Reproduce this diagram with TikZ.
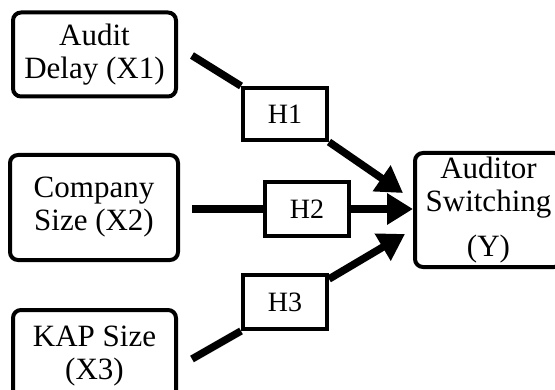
\documentclass[tikz,border=0pt]{standalone}
\usepackage{fontspec}
\setmainfont{Liberation Serif}
\usepackage{tikz}
\usetikzlibrary{positioning,calc,arrows.meta}

\begin{document}
\begin{tikzpicture}[x=1pt,y=1pt,
    varbox/.style={draw, line width=4pt, rounded corners=8pt, align=center, inner sep=0pt, font=\fontsize{31}{33}\selectfont},
    hypbox/.style={draw, line width=4pt, fill=white, minimum width=84pt, minimum height=54pt, inner sep=0pt, font=\fontsize{28}{30}\selectfont},
    link/.style={line width=7.5pt},
    effect/.style={line width=7.5pt, -{Triangle[length=26pt,width=30pt]}}]
    \clip (0,0) rectangle (555,389);
    % variables
    \node[varbox, minimum width=163pt, minimum height=84pt] (x1) at (94.5,334.5) {Audit\\Delay (X1)};
    \node[varbox, minimum width=168pt, minimum height=105pt] (x2) at (94,181.5) {Company\\Size (X2)};
    \node[varbox, minimum width=163pt, minimum height=92pt] (x3) at (94.5,33) {KAP Size\\(X3)};
    \node[varbox, minimum width=147pt, minimum height=114pt] (y) at (488.5,179) {Auditor\\Switching\\[12pt](Y)};
    % hypotheses
    \node[hypbox, minimum height=52pt] (h1) at (285,275) {H1};
    \node[hypbox] (h2) at (307,180) {H2};
    \node[hypbox] (h3) at (285,87) {H3};
    % paths
    \coordinate (c2) at ([xshift=12pt]x2.east);
    \draw[link] ([xshift=14pt,yshift=-1pt]x1.east) -- (h1.north west);
    \draw[link] (c2 |- h2.west) -- (h2.west);
    \draw[link] ([xshift=14pt,yshift=-3pt]x3.east) -- (h3.south west);
    \draw[effect] (h1.south east) -- ([xshift=-10pt,yshift=17pt]y.west);
    \draw[effect] (h2.east) -- (y.west |- h2.east);
    \draw[effect] ([yshift=-6pt]h3.north east) -- ([xshift=-8pt,yshift=-24pt]y.west);
\end{tikzpicture}
\end{document}
